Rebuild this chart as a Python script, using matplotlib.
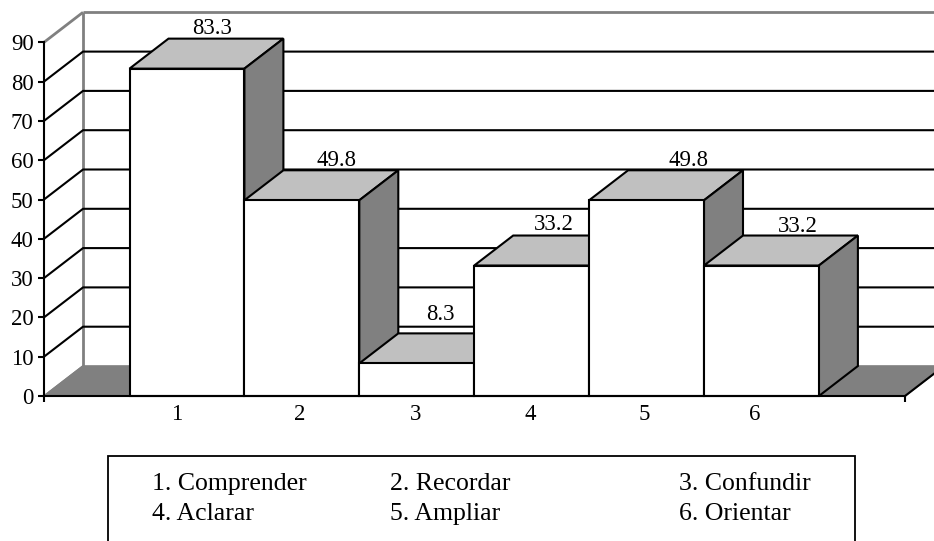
import matplotlib
matplotlib.use("Agg")
import matplotlib.pyplot as plt
from matplotlib.patches import Polygon, Rectangle
from matplotlib.ticker import FixedLocator

plt.rcParams['font.family'] = ['Liberation Serif', 'DejaVu Serif']

categories = ['1', '2', '3', '4', '5', '6']
values = [83.3, 49.8, 8.3, 33.2, 49.8, 33.2]
value_labels = ['83.3', '49.8', '8.3', '33.2', '49.8', '33.2']
y_ticks = [0, 10, 20, 30, 40, 50, 60, 70, 80, 90]
legend_rows = [['1. Comprender', '2. Recordar', '3. Confundir'],
               ['4. Aclarar', '5. Ampliar', '6. Orientar']]

W, H = 934, 541
X0, X1, Y0, Y90 = 44.0, 905.0, 396.0, 42.3
BAR_L, BAR_W = 129.5, 114.9
DX_PX, DY_PX = 39.0, 30.0
LW = 1.5
FS = 16.4
FS_LEG = 18.5

fig = plt.figure(figsize=(W / 100, H / 100), dpi=100, facecolor='white')
ax = fig.add_axes([X0 / W, 1 - Y0 / H, (X1 - X0) / W, (Y0 - Y90) / H])
ax.set_facecolor('none')
ax.set_xlim((X0 - BAR_L) / BAR_W, (X1 - BAR_L) / BAR_W)
ax.set_ylim(0, 90)
xmin, xmax = ax.get_xlim()
dx = DX_PX / BAR_W
dy = DY_PX / ((Y0 - Y90) / 90)


def poly(pts, fc, ec='black', lw=LW, z=2):
    ax.add_patch(Polygon(pts, closed=True, facecolor=fc, edgecolor=ec, linewidth=lw,
                         joinstyle='miter', clip_on=False, zorder=z))


def line(xs, ys, color='black', lw=LW, z=1.5):
    ax.plot(xs, ys, color=color, lw=lw, clip_on=False, zorder=z, solid_capstyle='butt')


# Floor
poly([(xmin, 0), (xmin + dx, dy), (xmax + dx, dy), (xmax, 0)], '#808080', ec='#808080', lw=1.2, z=1)
line([xmax, xmax + dx], [0, dy], z=1.6)

# Walls
line([xmin, xmin + dx], [90, 90 + dy], color='#808080', lw=2, z=1.4)
line([xmin + dx, xmin + dx], [dy, 90 + dy], color='#808080', lw=2, z=1.4)
line([xmin + dx, xmax + dx], [90 + dy, 90 + dy], color='#808080', lw=2, z=1.4)
line([xmin, xmin + dx], [0, dy], color='#808080', lw=1.2, z=1.4)

# Grid lines
for v in y_ticks[1:-1]:
    line([xmin, xmin + dx, xmax + dx], [v, v + dy, v + dy])

# Bars
label_dx_px = [25, 35, 24, 22.5, 42, 36]
label_dy_px = [5, 4.5, 13, 5.5, 4.5, 3.5]
for i, v in enumerate(values):
    z = 3 + i * 0.1
    poly([(i, v), (i + dx, v + dy), (i + 1 + dx, v + dy), (i + 1, v)], '#c0c0c0', z=z)
    poly([(i + 1, 0), (i + 1 + dx, dy), (i + 1 + dx, v + dy), (i + 1, v)], '#808080', z=z)
    poly([(i, 0), (i + 1, 0), (i + 1, v), (i, v)], 'white', z=z)
    ax.annotate(value_labels[i], xy=(i + 0.5, v + dy), xycoords='data',
                xytext=(label_dx_px[i] * 0.72, label_dy_px[i] * 0.72), textcoords='offset points',
                ha='center', va='baseline', fontsize=FS, color='black', annotation_clip=False, zorder=6)

# Axes
for s in ['top', 'right']:
    ax.spines[s].set_visible(False)
for s in ['left', 'bottom']:
    ax.spines[s].set_linewidth(LW)
    ax.spines[s].set_zorder(8)
ax.set_yticks(y_ticks)
ax.set_yticklabels([str(t) for t in y_ticks], fontsize=FS)
ax.tick_params(axis='y', length=4.5, width=LW, pad=3)
label_px = [177, 300, 416, 530, 644, 755]
ax.set_xticks([(p - BAR_L) / BAR_W for p in label_px])
ax.set_xticklabels(categories, fontsize=FS)
ax.tick_params(axis='x', which='major', length=0, pad=6)
ax.xaxis.set_minor_locator(FixedLocator([xmin, xmax]))
ax.tick_params(axis='x', which='minor', length=4.5, width=LW)

# Legend box
fig.add_artist(Rectangle((108 / W, 1 - 560 / H), (855 - 108) / W, (560 - 456) / H,
                         transform=fig.transFigure, facecolor='white', edgecolor='black', linewidth=1.3))
col_x = [152, 390, 679]
row_y = [490, 520]
for r, row in enumerate(legend_rows):
    for c, t in enumerate(row):
        fig.text(col_x[c] / W, 1 - row_y[r] / H, t, fontsize=FS_LEG, va='baseline', ha='left', color='black')

fig.savefig('out.png', dpi=100)
